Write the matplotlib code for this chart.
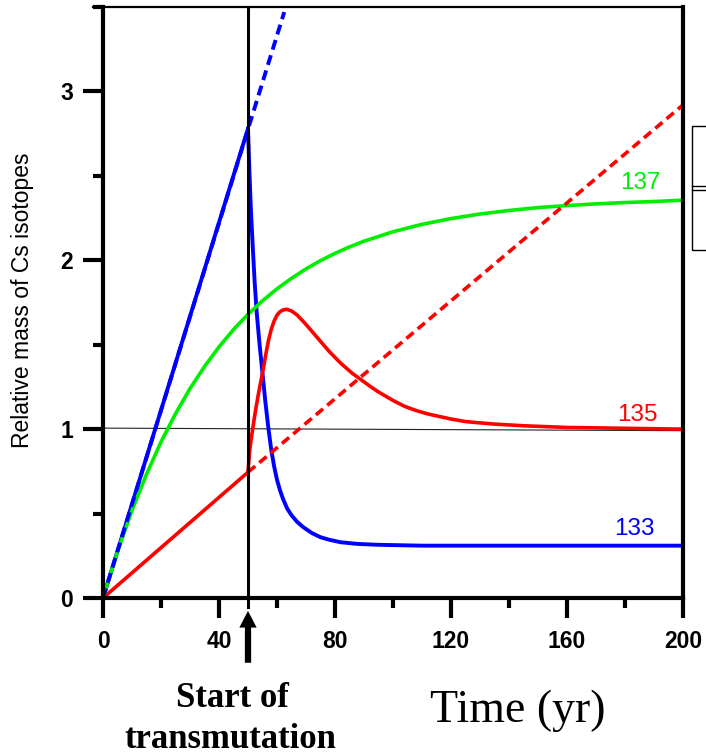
import matplotlib
matplotlib.use('Agg')
import matplotlib.pyplot as plt
from matplotlib import font_manager as fm
from matplotlib.patches import Rectangle
from matplotlib.lines import Line2D
from matplotlib.ticker import MultipleLocator

# ---------------- data ----------------
# Cs-133 (blue)
t_133_pre = [0, 50]
y_133_pre = [0, 2.78]
t_133_post = [50, 50.5, 51, 51.7, 52.3, 53, 54, 55, 56, 57, 58, 59, 60, 61, 62,
              63.5, 65, 67, 69, 72, 75, 78, 82, 88, 95, 110, 140, 200]
y_133_post = [2.78, 2.52, 2.30, 2.06, 1.87, 1.69, 1.50, 1.33, 1.16, 1.01, 0.88,
              0.78, 0.70, 0.64, 0.59, 0.53, 0.49, 0.45, 0.42, 0.385, 0.36, 0.345,
              0.33, 0.32, 0.315, 0.31, 0.31, 0.31]
t_133_proj = [0, 62.5]
y_133_proj = [0, 3.47]

# Cs-135 (red)
t_135_pre = [0, 50]
y_135_pre = [0, 0.745]
t_135_post = [50, 50.5, 51, 51.6, 52.5, 53.5, 54.5, 55.3, 56, 57, 58, 59, 60, 61,
              62, 63.3, 65, 67, 70, 74, 78, 82, 86, 88, 90, 92, 95, 98, 100, 104,
              108, 112, 116, 120, 125, 130, 135, 145, 160, 180, 200]
y_135_post = [0.745, 0.86, 0.93, 1.0, 1.10, 1.20, 1.29, 1.36, 1.43, 1.52, 1.59,
              1.64, 1.675, 1.695, 1.705, 1.71, 1.70, 1.675, 1.62, 1.54, 1.46,
              1.39, 1.33, 1.305, 1.28, 1.255, 1.22, 1.19, 1.17, 1.135, 1.11,
              1.09, 1.075, 1.06, 1.045, 1.037, 1.03, 1.02, 1.01, 1.005, 1.0]
t_135_proj = [50, 200]
y_135_proj = [0.745, 2.92]

# Cs-137 (green)
t_137 = [0, 5, 10, 15, 20, 25, 30, 35, 40, 45, 50, 55, 60, 65, 70, 75, 80, 85,
         90, 100, 110, 120, 130, 140, 150, 160, 170, 180, 190, 200]
y_137 = [0, 0.275, 0.519, 0.733, 0.924, 1.091, 1.240, 1.371, 1.487, 1.590,
         1.680, 1.760, 1.831, 1.893, 1.949, 1.998, 2.041, 2.079, 2.113, 2.169,
         2.213, 2.247, 2.274, 2.295, 2.312, 2.324, 2.334, 2.342, 2.348, 2.356]

# reference line near 1 and transmutation start
ref_t = [0, 200]
ref_y = [1.006, 0.991]
t_start = 50

# curve labels
iso_labels = ['137', '135', '133']
iso_label_t = [185.2, 184.1, 183.1]
iso_label_y = [2.424, 1.049, 0.373]
iso_colors = ['#00ee00', '#ff0000', '#0000ff']

x_ticks = [0, 40, 80, 120, 160, 200]
y_ticks = [0, 1, 2, 3]
x_lim = (0, 200)
y_lim = (0, 3.5)

# ---------------- style ----------------
plt.rcParams['font.family'] = ['Liberation Sans', 'DejaVu Sans']
names = {f.name for f in fm.fontManager.ttflist}
narrow = 'Liberation Sans Narrow' if 'Liberation Sans Narrow' in names else 'Liberation Sans'

W, H = 706, 756
fig = plt.figure(figsize=(W / 100, H / 100), dpi=100)
ax = fig.add_axes([103 / W, 1 - 598 / H, 580 / W, 591 / H])

BLUE, RED, GREEN = '#0000ff', '#ff0000', '#00ee00'
lw = 2.6

ax.plot(ref_t, ref_y, color='#222222', lw=0.8, zorder=1.5)

ax.plot(t_133_pre, y_133_pre, color=BLUE, lw=2.8, zorder=2, solid_capstyle='round')
ax.plot(t_133_post, y_133_post, color=BLUE, lw=2.8, zorder=2)
ax.plot(t_135_pre, y_135_pre, color=RED, lw=lw, zorder=2)
ax.plot(t_135_post, y_135_post, color=RED, lw=lw, zorder=2)
ax.plot(t_137, y_137, color=GREEN, lw=lw, zorder=2.2)
ax.plot(t_133_proj, y_133_proj, color=BLUE, lw=2.8, dashes=(2.6, 1.5), zorder=2.4)
ax.plot(t_135_proj, y_135_proj, color=RED, lw=lw, dashes=(2.6, 1.5), zorder=2.4)

# transmutation start line
ax.plot([t_start, t_start], [y_lim[1], -0.053], color='black', lw=2.2,
        zorder=4, clip_on=False)
ax.annotate('', xy=(t_start, -0.06), xytext=(t_start, -0.40),
            arrowprops=dict(arrowstyle='simple,head_length=1.2,head_width=1.25,tail_width=0.45',
                            color='black', lw=0, mutation_scale=10),
            annotation_clip=False)

for lab, tx, ty, c in zip(iso_labels, iso_label_t, iso_label_y, iso_colors):
    ax.text(tx, ty, lab, color=c, fontsize=17.5, family=narrow,
            ha='center', va='baseline')

ax.set_xlim(*x_lim)
ax.set_ylim(*y_lim)
ax.set_xticks(x_ticks)
ax.set_yticks(y_ticks)
ax.xaxis.set_minor_locator(MultipleLocator(20))
ax.yaxis.set_minor_locator(MultipleLocator(0.5))
ax.tick_params(which='major', direction='out', length=14.4, width=3,
               labelsize=16.5, top=False, right=False)
ax.tick_params(axis='x', which='major', pad=9)
ax.tick_params(axis='y', which='major', pad=7)
ax.tick_params(which='minor', direction='out', length=7.2, width=3,
               top=False, right=False)
for lab in ax.get_xticklabels() + ax.get_yticklabels():
    lab.set_fontweight('bold')

for side in ['left', 'bottom', 'right']:
    ax.spines[side].set_linewidth(3)
ax.spines['top'].set_linewidth(1.6)
ax.add_line(Line2D([-0.017, 0], [1, 1], transform=ax.transAxes, color='black',
                   lw=1.6, clip_on=False))

ax.text(-0.138, 0.504, 'Relative mass of Cs isotopes', transform=ax.transAxes,
        rotation=90, ha='center', va='center', fontsize=16.5)

# bottom annotations (figure pixel coordinates)
def fx(x):
    return x / W

def fy(y):
    return 1 - y / H

fig.text(fx(232), fy(707), 'Start of', family='Liberation Serif',
         fontweight='bold', fontsize=25, ha='center', va='baseline')
fig.text(fx(230), fy(748), 'transmutation', family='Liberation Serif',
         fontweight='bold', fontsize=25, ha='center', va='baseline')
fig.text(fx(518), fy(722), 'Time (yr)', family='Liberation Serif',
         fontsize=33, ha='center', va='baseline')

# partially visible box on the right edge
fig.add_artist(Rectangle((fx(692), fy(250)), fx(40), (250 - 126) / H,
                         transform=fig.transFigure, fill=False,
                         edgecolor='black', lw=1.0))
for yy in (186, 190):
    fig.add_artist(Line2D([fx(692), 1.0], [fy(yy), fy(yy)],
                          transform=fig.transFigure, color='black', lw=1.0))

fig.savefig('out.png', dpi=100)
